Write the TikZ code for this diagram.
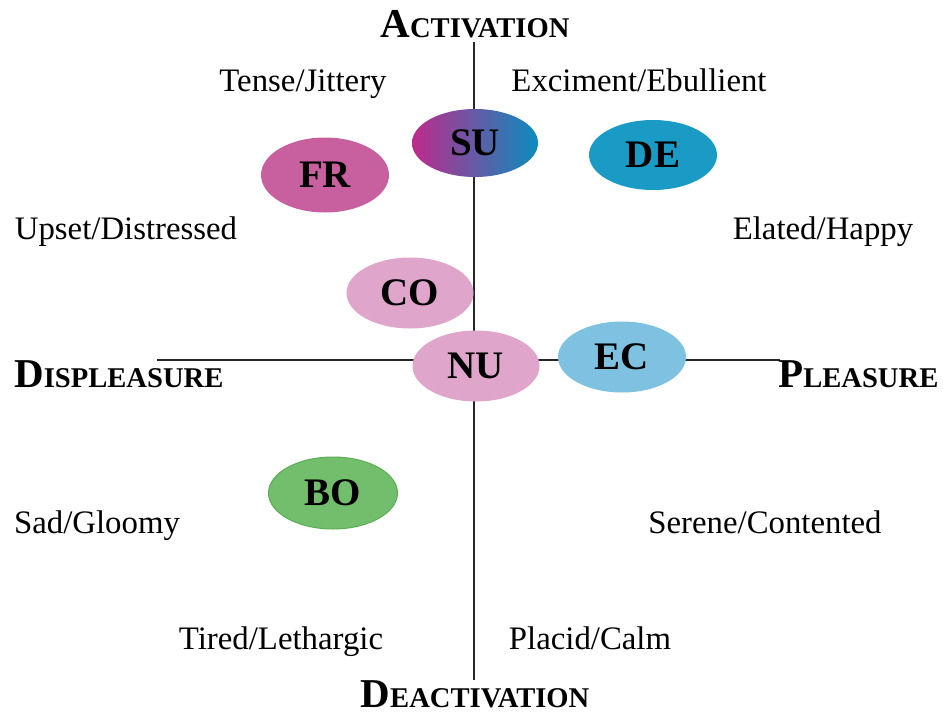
\documentclass[tikz,border=0pt]{standalone}
\usepackage{fontspec}
\setmainfont{Liberation Serif}
\usetikzlibrary{shapes.geometric}
\definecolor{frcol}{HTML}{C860A0}
\definecolor{decol}{HTML}{1A9BC6}
\definecolor{pinkcol}{HTML}{DFA5CB}
\definecolor{eccol}{HTML}{7FC1E0}
\definecolor{bocol}{HTML}{72BE6C}
\definecolor{boline}{HTML}{5AAF52}
\definecolor{suleft}{HTML}{BE2A8C}
\definecolor{suright}{HTML}{0A8CBE}
\newcommand\axlab[2]{\bfseries{\fontsize{41}{41}\selectfont #1}{\fontsize{28.6}{28.6}\selectfont #2}}
\tikzset{
  emo/.style={ellipse, inner sep=0pt, minimum width=127pt, minimum height=71pt,
    font=\fontsize{39}{39}\selectfont\bfseries},
  lab/.style={anchor=base, inner sep=0pt, font=\fontsize{32.8}{38}\selectfont},
  axl/.style={anchor=base, inner sep=0pt},
  axisline/.style={line width=2.2pt, black!85}
}
\begin{document}
\begin{tikzpicture}[x=1pt,y=-1pt]
\useasboundingbox (0,0) rectangle (943,723);
% axis ends
\coordinate (vt) at (474,42);
\coordinate (vb) at (474,680);
\coordinate (hl) at (157,360);
\coordinate (hr) at (780,360);
\draw[axisline] (vt) -- (vb);
\draw[axisline] (hl) -- (hr);
% axis labels
\node[axl] (act) at (475,37) {\axlab{A}{CTIVATION}};
\node[axl] (deact) at (475,707) {\axlab{D}{EACTIVATION}};
\node[axl,anchor=base west] (displ) at (14,387) {\axlab{D}{ISPLEASURE}};
\node[axl,anchor=base west] (pleas) at (778,387) {\axlab{P}{LEASURE}};
% quadrant labels
\node[lab] (tense) at (303,91) {Tense/Jittery};
\node[lab] (excite) at (639,91) {Exciment/Ebullient};
\node[lab] (upset) at (126,239) {Upset/Distressed};
\node[lab] (elated) at (823,239) {Elated/Happy};
\node[lab] (sad) at (97,533) {Sad/Gloomy};
\node[lab] (serene) at (765,533) {Serene/Contented};
\node[lab] (tired) at (281,649) {Tired/Lethargic};
\node[lab] (placid) at (590,649) {Placid/Calm};
% emotion ellipses
\node[emo, left color=suleft, right color=suright, minimum height=68pt, minimum width=126pt] (su) at (475,143) {SU};
\node[emo, fill=frcol, minimum width=128pt, minimum height=75pt] (fr) at (325,175) {FR};
\node[emo, fill=decol, minimum width=128pt, minimum height=70pt] (de) at (653,155) {DE};
\node[emo, fill=pinkcol] (co) at (410,293) {CO};
\node[emo, fill=pinkcol] (nu) at (476,366) {NU};
\node[emo, fill=eccol, minimum width=128pt] (ec) at (622,357) {EC};
\node[emo, fill=bocol, draw=boline, line width=1pt, minimum width=129pt, minimum height=72pt] (bo) at (333,493) {BO};
\end{tikzpicture}
\end{document}
